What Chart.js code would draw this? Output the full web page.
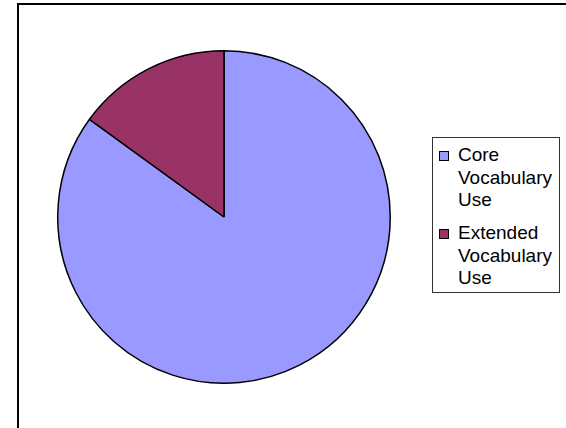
<!DOCTYPE html>
<html>
<head>
<meta charset="utf-8">
<script src="https://cdn.jsdelivr.net/npm/chart.js@4"></script>
<style>
    body { margin: 0; background: #fff; }
    #wrap { position: relative; width: 566px; height: 428px; overflow: hidden; }
    #frame { position: absolute; left: 17px; top: 3px; width: 600px; height: 500px; border: 2px solid #000; box-sizing: border-box; }
    #chart { position: absolute; left: 0; top: 0; }
    #legend { position: absolute; left: 432px; top: 137px; width: 128px; height: 156px; border: 1px solid #333; box-sizing: border-box; background: #fff;
              font-family: "Liberation Sans", Arial, sans-serif; font-size: 19px; line-height: 22.5px; color: #000; }
    .item { position: relative; padding-left: 25px; width: 98px; }
    .box { position: absolute; left: 6px; top: 7px; width: 8px; height: 8px; border: 1px solid #000; }
</style>
</head>
<body>
<div id="wrap">
    <div id="frame"></div>
    <canvas id="chart" width="566" height="428"></canvas>
    <div id="legend"></div>
</div>
<script>
// Dados do gráfico
const categories = ['Core Vocabulary Use', 'Extended Vocabulary Use'];
const shares = [85, 15];
const sliceColors = ['#9999FF', '#993366'];

document.addEventListener('DOMContentLoaded', function() {
    buildLegend();
    initChart();
});

function buildLegend() {
    const legend = document.getElementById('legend');
    const tops = [6, 84];
    categories.forEach((label, i) => {
        const item = document.createElement('div');
        item.className = 'item';
        item.style.position = 'absolute';
        item.style.top = tops[i] + 'px';
        item.innerHTML = `<span class="box" style="background:${sliceColors[i]}"></span>${label}`;
        legend.appendChild(item);
    });
}

function initChart() {
    const ctx = document.getElementById('chart').getContext('2d');
    new Chart(ctx, {
        type: 'pie',
        data: {
            labels: categories,
            datasets: [{
                data: shares,
                backgroundColor: sliceColors,
                borderColor: '#000',
                borderWidth: 1.5
            }]
        },
        options: {
            responsive: false,
            animation: false,
            layout: { padding: { left: 57, top: 50, right: 175, bottom: 44 } },
            plugins: {
                legend: { display: false },
                tooltip: { enabled: false }
            }
        }
    });
}
</script>
</body>
</html>
